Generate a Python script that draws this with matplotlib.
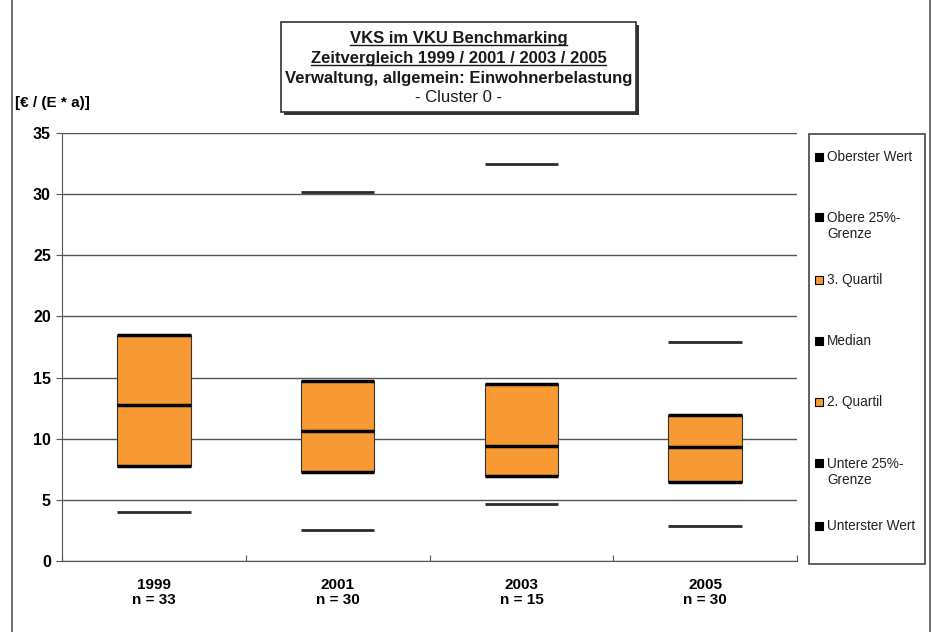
import matplotlib
matplotlib.use('Agg')
import matplotlib.pyplot as plt
from matplotlib.patches import Rectangle
from matplotlib.lines import Line2D
import numpy as np

plt.rcParams['font.family'] = ['Liberation Sans', 'DejaVu Sans']

# data
years = ['1999', '2001', '2003', '2005']
counts = [33, 30, 15, 30]
min_val = [4.0, 2.5, 4.7, 2.85]
q1 = [7.75, 7.25, 6.95, 6.45]
median = [12.75, 10.6, 9.4, 9.3]
q3 = [18.45, 14.7, 14.45, 11.95]
max_val = [np.nan, 30.2, 32.5, 17.9]

orange = '#F79A34'
W, H = 933, 632

fig = plt.figure(figsize=(W / 100, H / 100), dpi=100)
ax = fig.add_axes([62 / W, 1 - 561 / H, (797 - 62) / W, (561 - 133) / H])

x = np.arange(len(years))
bw = 0.4
ax.bar(x, np.array(median) - np.array(q1), bottom=q1, width=bw, color=orange,
       edgecolor='#333333', linewidth=0.8, zorder=3)
ax.bar(x, np.array(q3) - np.array(median), bottom=median, width=bw, color=orange,
       edgecolor='#333333', linewidth=0.8, zorder=3)

# marker lines
ax.hlines(median, x - bw / 2, x + bw / 2, color='black', lw=2.5, zorder=4)
ax.hlines(q1, x - bw / 2, x + bw / 2, color='black', lw=2.5, zorder=4)
ax.hlines(q3, x - bw / 2, x + bw / 2, color='black', lw=2.5, zorder=4)
ax.hlines(min_val, x - bw / 2, x + bw / 2, color='#2a2a2a', lw=2.0, zorder=4)
ax.hlines(max_val, x - bw / 2, x + bw / 2, color='#2a2a2a', lw=2.0, zorder=4)

ax.set_xlim(-0.5, len(years) - 0.5)
ax.set_ylim(0, 35)
ax.set_yticks(np.arange(0, 36, 5))
ax.yaxis.grid(True, color='#555555', lw=1.0)
ax.set_axisbelow(True)
for s in ['top', 'right']:
    ax.spines[s].set_visible(False)
ax.spines['left'].set_color('#555555')
ax.spines['bottom'].set_color('#555555')

ax.set_xticks(np.arange(-0.5, len(years)), minor=False)
ax.set_xticklabels([])
ax.set_xticks(x, minor=True)
ax.set_xticklabels([f'{y}\nn = {n}' for y, n in zip(years, counts)], minor=True,
                   fontsize=11, fontweight='bold', linespacing=1.15)
ax.tick_params(axis='x', which='minor', length=0, pad=12)
ax.tick_params(axis='x', which='major', length=4, color='#555555', direction='in')
ax.tick_params(axis='y', length=4, color='#555555', labelsize=11.5, pad=4)
for lab in ax.get_yticklabels():
    lab.set_fontweight('bold')

fig.text(15 / W, 1 - 103 / H, '[€ / (E * a)]', fontsize=11, fontweight='bold',
         va='center', ha='left')

# title box with shadow
tx0, ty0, tx1, ty1 = 281, 22, 636, 112
fig.add_artist(Rectangle((tx0 / W + 3 / W, 1 - ty1 / H - 3 / H), (tx1 - tx0) / W, (ty1 - ty0) / H,
                         transform=fig.transFigure, facecolor='#333333', edgecolor='none'))
fig.add_artist(Rectangle((tx0 / W, 1 - ty1 / H), (tx1 - tx0) / W, (ty1 - ty0) / H,
                         transform=fig.transFigure, facecolor='white', edgecolor='#333333', lw=1.2))
cx = (tx0 + tx1) / 2 / W
title_lines = [('VKS im VKU Benchmarking', 'bold', True),
               ('Zeitvergleich 1999 / 2001 / 2003 / 2005', 'bold', True),
               ('Verwaltung, allgemein: Einwohnerbelastung', 'bold', False),
               ('- Cluster 0 -', 'normal', False)]
for i, (t, fw, ul) in enumerate(title_lines):
    yy = 1 - (38 + i * 20) / H
    txt = fig.text(cx, yy, t, ha='center', va='center', fontsize=12, fontweight=fw,
                   color='#1a1a1a')
    if ul:
        fig.canvas.draw()
        bb = txt.get_window_extent()
        fig.add_artist(Line2D([bb.x0 / W, bb.x1 / W], [bb.y0 / H + 1 / H, bb.y0 / H + 1 / H],
                              transform=fig.transFigure, color='#1a1a1a', lw=1.0))

# legend box
lx0, ly0, lx1, ly1 = 809, 134, 925, 564
fig.add_artist(Rectangle((lx0 / W, 1 - ly1 / H), (lx1 - lx0) / W, (ly1 - ly0) / H,
                         transform=fig.transFigure, facecolor='white', edgecolor='#444444', lw=1.2))
legend_items = [('Oberster Wert', 'black', 157),
                ('Obere 25%-\nGrenze', 'black', 226),
                ('3. Quartil', orange, 280),
                ('Median', 'black', 341),
                ('2. Quartil', orange, 402),
                ('Untere 25%-\nGrenze', 'black', 472),
                ('Unterster Wert', 'black', 526)]
for label, col, py in legend_items:
    first_y = py - 9 if '\n' in label else py
    fig.add_artist(Rectangle((815 / W, 1 - (first_y + 4) / H), 8 / W, 8 / H,
                             transform=fig.transFigure, facecolor=col, edgecolor='black', lw=0.8))
    fig.text(827 / W, 1 - py / H, label, fontsize=9.8, va='center', ha='left',
             color='#222222', linespacing=1.1)

# outer frame lines
fig.add_artist(Line2D([12 / W, 12 / W], [0, 1], transform=fig.transFigure, color='#555555', lw=1.2))
fig.add_artist(Line2D([930 / W, 930 / W], [0, 1], transform=fig.transFigure, color='#555555', lw=1.2))

fig.savefig('out.png', dpi=100)
